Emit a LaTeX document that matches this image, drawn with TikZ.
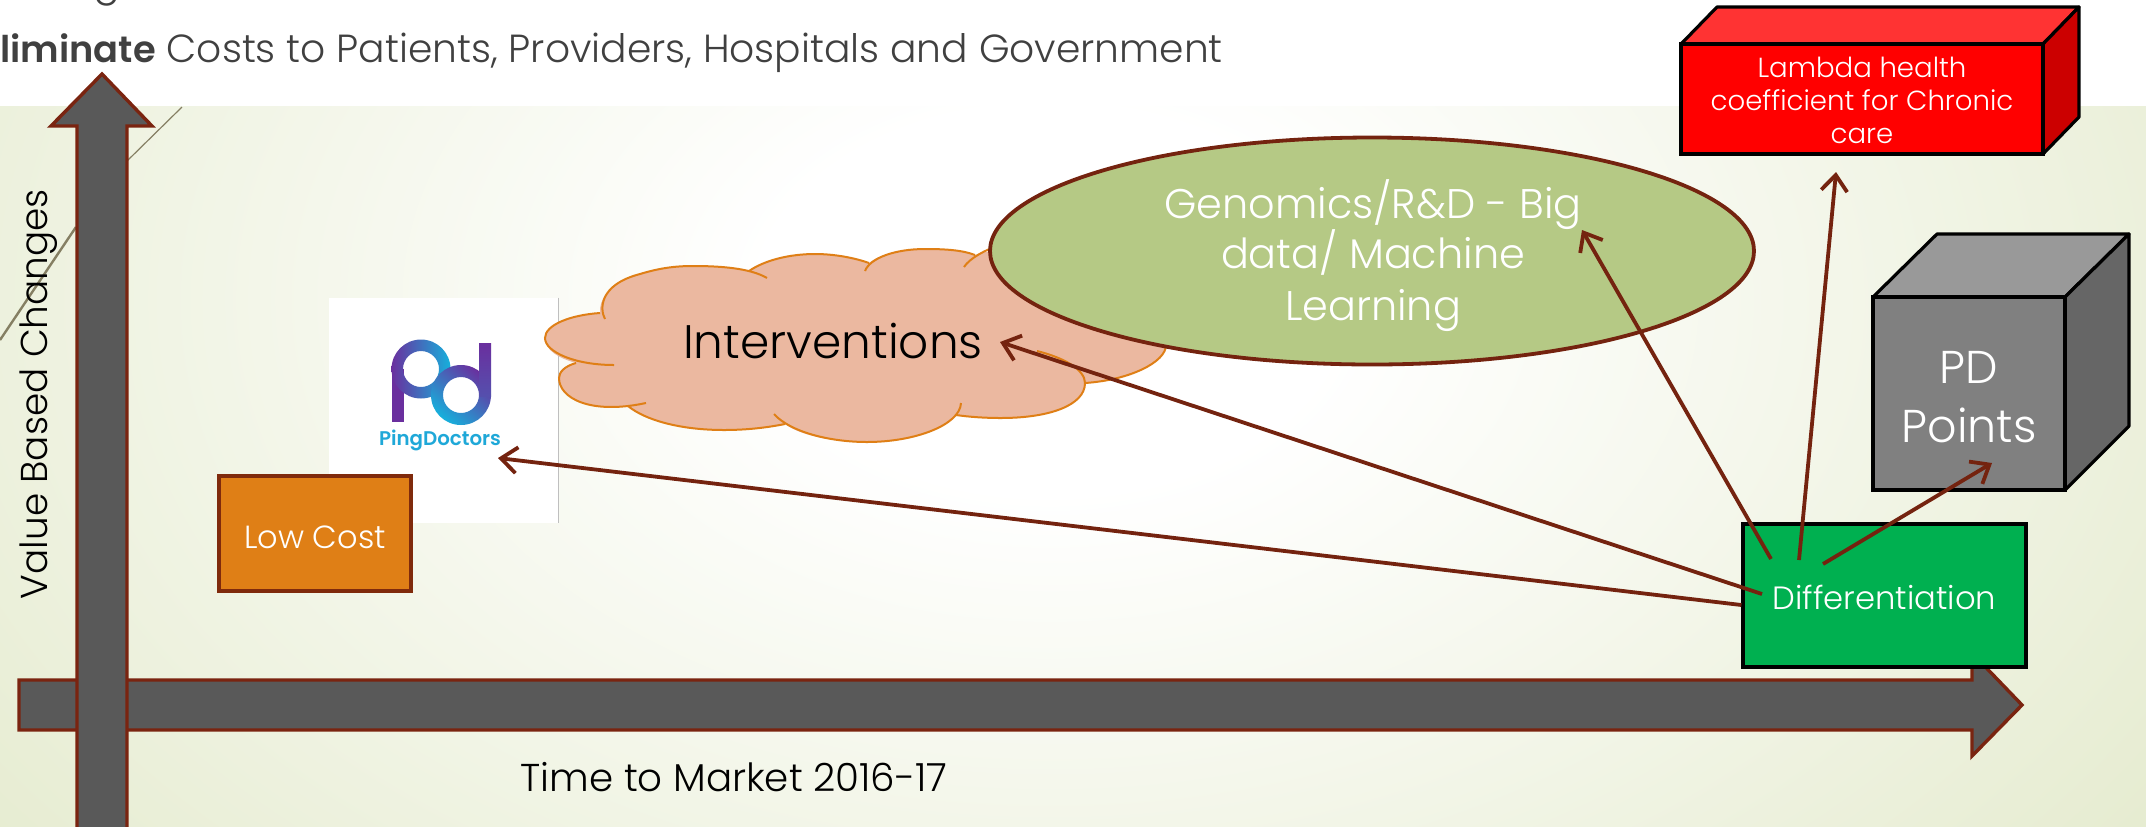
\documentclass[tikz,border=0pt]{standalone}
\usepackage{fontspec}
\setmainfont{Poppins Light}[BoldFont={Poppins SemiBold}]
\usetikzlibrary{arrows.meta,shapes.geometric}
\definecolor{bgout}{HTML}{DDE5C0}
\definecolor{axisline}{HTML}{7A2410}
\definecolor{axisfill}{HTML}{595959}
\definecolor{conn}{HTML}{74230F}
\definecolor{orangefill}{HTML}{DF7F16}
\definecolor{orangeedge}{HTML}{7F2A0C}
\definecolor{cloudfill}{HTML}{EBB8A0}
\definecolor{ellfill}{HTML}{B5C985}
\definecolor{pdpurple}{HTML}{6A2F9E}
\definecolor{pdcyan}{HTML}{16B0DC}
\definecolor{pdtext}{HTML}{1FA8D8}
\definecolor{titlegray}{HTML}{404040}
\definecolor{diagline}{HTML}{857F63}
\pgfdeclareradialshading{bgshade}{\pgfpointorigin}{color(0bp)=(white);color(6bp)=(white);color(36bp)=(bgout);color(50bp)=(bgout)}
\tikzset{
  axisarrow/.style={draw=axisline,fill=axisfill,line width=1.7pt,miter limit=10},
  conarrow/.style={draw=conn,line width=1.9pt,-{Straight Barb[length=8pt,width=13pt,line width=1.9pt]}},
  boxnode/.style={draw=black,line width=1.6pt,inner sep=0pt,text=white,align=center},
  facestyle/.style={draw=black,line width=1.6pt,line join=round},
  cloudedge/.style={draw=orangefill,line width=1pt},
  plain/.style={inner sep=0pt,text=black}
}
\begin{document}
\begin{tikzpicture}[x=.5pt,y=-.5pt]
\useasboundingbox (0,0) rectangle (2146,826);
% background
\begin{scope}
\clip (0,106) rectangle (2146,826);
\path[shading=bgshade] (-150,-500) rectangle (2250,1100);
\end{scope}
\draw[diagline,line width=.6pt] (182,107) -- (127,161);
\draw[diagline,line width=1.2pt] (76,227) -- (0,340);
% title
\node[plain,anchor=base,text=titlegray,font=\fontsize{20}{24}\selectfont] (gpart) at (107,-5) {g};
\node[plain,anchor=base west,text=titlegray,font=\fontsize{19.6}{24}\selectfont] (title) at (0,62) {{\fontsize{18.4}{24}\selectfont\textbf{liminate}} Costs to Patients, Providers, Hospitals and Government};
% logo
\node[fill=white,minimum width=114.5pt,minimum height=112.5pt,inner sep=0pt] (logo) at (443.5,410.5) {};
\draw[gray!50,line width=.4pt] (logo.north east) -- (logo.south east);
\fill[pdpurple] (392,369) rectangle (404,422);
\shade[even odd rule,left color=pdpurple,right color=pdcyan] (421,369) circle (29.5) (421,369) circle (18);
\shade[even odd rule,shading=axis,top color=pdpurple,bottom color=pdcyan,shading angle=-40] (461,395) circle (30) (461,395) circle (18);
\shade[top color=pdpurple,bottom color=pdpurple!75!pdcyan] (479,343) rectangle (491,396);
\node[plain,anchor=base,text=pdtext,font=\fontsize{9.9}{12}\selectfont\bfseries] (logotext) at (440,445) {PingDoctors};
% low cost
\node[boxnode,draw=orangeedge,fill=orangefill,minimum width=96pt,minimum height=57.5pt,font=\fontsize{16}{18}\selectfont] (lowcost) at (315,533.5) {\raisebox{-7.25pt}[0pt][0pt]{Low Cost}};
% cloud
\path[fill=cloudfill] (600,313) .. controls (598,285) and (640,266) .. (693,266) .. controls (715,266) and (735,268) .. (749,271)
  .. controls (765,260) and (790,254) .. (815,254) .. controls (835,254) and (855,258) .. (869,263)
  .. controls (880,254) and (900,249) .. (925,249) .. controls (945,249) and (962,250) .. (975,255)
  .. controls (1020,235) and (1166,300) .. (1166,345) .. controls (1166,362) and (1130,380) .. (1085,383)
  .. controls (1085,405) and (1050,418) .. (1001,418) .. controls (985,418) and (970,417) .. (956,415)
  .. controls (945,430) and (910,442) .. (867,442) .. controls (830,442) and (800,435) .. (785,424)
  .. controls (765,428) and (745,430) .. (724,430) .. controls (680,430) and (645,420) .. (628,406)
  .. controls (590,410) and (559,398) .. (559,378) .. controls (559,372) and (565,366) .. (576,363)
  .. controls (558,358) and (545,350) .. (545,338) .. controls (545,325) and (570,315) .. (600,313) -- cycle;
\draw[cloudedge] (605,319) .. controls (600,310) and (598,285) .. (640,274) .. controls (660,268) and (675,266) .. (693,266) .. controls (720,266) and (750,268) .. (767,278);
\draw[cloudedge] (749,271) .. controls (765,260) and (790,254) .. (815,254) .. controls (835,254) and (855,258) .. (869,263);
\draw[cloudedge] (865,271) .. controls (870,258) and (895,249) .. (925,249) .. controls (945,249) and (962,250) .. (975,255);
\draw[cloudedge] (964,267) .. controls (970,258) and (985,250) .. (1000,245);
\draw[cloudedge] (1100,320) .. controls (1140,325) and (1166,335) .. (1166,345) .. controls (1166,362) and (1130,380) .. (1085,383);
\draw[cloudedge] (1037,351) .. controls (1065,358) and (1085,370) .. (1085,383) .. controls (1085,405) and (1050,418) .. (1001,418) .. controls (985,418) and (970,417) .. (956,415);
\draw[cloudedge] (961,403) .. controls (960,425) and (915,442) .. (867,442) .. controls (830,442) and (790,432) .. (774,414);
\draw[cloudedge] (785,424) .. controls (765,428) and (745,430) .. (724,430) .. controls (680,430) and (645,420) .. (628,406);
\draw[cloudedge] (646,403) .. controls (590,415) and (559,398) .. (559,378) .. controls (559,372) and (565,366) .. (576,363);
\draw[cloudedge] (614,365) .. controls (575,365) and (545,352) .. (545,338) .. controls (545,325) and (570,315) .. (600,313);
\node[plain,anchor=base,font=\fontsize{23.5}{28}\selectfont] (interv) at (833,358) {Interventions};
% ellipse
\node[ellipse,draw=conn,fill=ellfill,line width=1.9pt,minimum width=382pt,minimum height=113.5pt,inner sep=0pt] (genomics) at (1372,251) {};
\node[plain,anchor=base,text=white,align=center,font=\fontsize{20.7}{25.5}\selectfont] (gentext1) at (1373,218) {Genomics/R\&D - Big};
\node[plain,anchor=base,text=white,font=\fontsize{20.7}{25.5}\selectfont] (gentext2) at (1373,268) {data/ Machine};
\node[plain,anchor=base,text=white,font=\fontsize{20.7}{25.5}\selectfont] (gentext3) at (1373,320) {Learning};
% axes
\draw[axisarrow] (19,680) -- (1972,680) -- (1972,653) -- (2022,705) -- (1972,756) -- (1972,730) -- (19,730) -- cycle;
\draw[axisarrow] (102,74) -- (152,126) -- (127,126) -- (127,840) -- (77,840) -- (77,126) -- (51,126) -- cycle;
\node[plain,anchor=base,rotate=90,font=\fontsize{18.7}{20}\selectfont] (ylabel) at (47,394) {Value Based Changes};
\node[plain,anchor=base,font=\fontsize{19.4}{22}\selectfont] (xlabel) at (734,791) {Time to Market 2016-17};
% lambda block
\path[fill=red!80!white,draw=black,line width=1.6pt,line join=round] (1681,44) -- (1717,7) -- (2079,7) -- (2043,44) -- cycle;
\path[fill=black!20!red,draw=black,line width=1.6pt,line join=round] (2043,44) -- (2079,7) -- (2079,117) -- (2043,154) -- cycle;
\node[boxnode,fill=red,minimum width=181pt,minimum height=55pt,font=\fontsize{13.8}{16.5}\selectfont] (lambda) at (1862,99) {\rule{0pt}{12pt}Lambda health\\coefficient for Chronic\\care};
% pd cube
\path[facestyle,fill=black!40] (1873,297) -- (1937,234) -- (2129,234) -- (2065,297) -- cycle;
\path[facestyle,fill=black!60] (2065,297) -- (2129,234) -- (2129,426) -- (2065,490) -- cycle;
\node[boxnode,fill=black!50,minimum width=96pt,minimum height=96.5pt,font=\fontsize{23}{29.5}\selectfont] (points) at (1969,393.5) {\rule{0pt}{20pt}PD\\Points};
% differentiation
\node[boxnode,fill={rgb,255:red,0;green,176;blue,80},minimum width=141.5pt,minimum height=71.5pt,font=\fontsize{16.1}{18}\selectfont] (diff) at (1884.5,595.5) {\raisebox{-6.75pt}[0pt][0pt]{Differentiation}};
% connector ends
\coordinate (s1) at (1823,564); \coordinate (e1) at (1992,463);
\coordinate (s2) at (1799,560); \coordinate (e2) at (1836,172);
\coordinate (s3) at (1771,559); \coordinate (e3) at (1582,230);
\coordinate (s4) at (1762,594); \coordinate (e4) at (1000,342);
\coordinate (s5) at (diff.west |- 0,605); \coordinate (e5) at (498,458);
\draw[conarrow] (s1) -- (e1);
\draw[conarrow] (s2) -- (e2);
\draw[conarrow] (s3) -- (e3);
\draw[conarrow] (s4) -- (e4);
\draw[conarrow] (s5) -- (e5);
\end{tikzpicture}
\end{document}
